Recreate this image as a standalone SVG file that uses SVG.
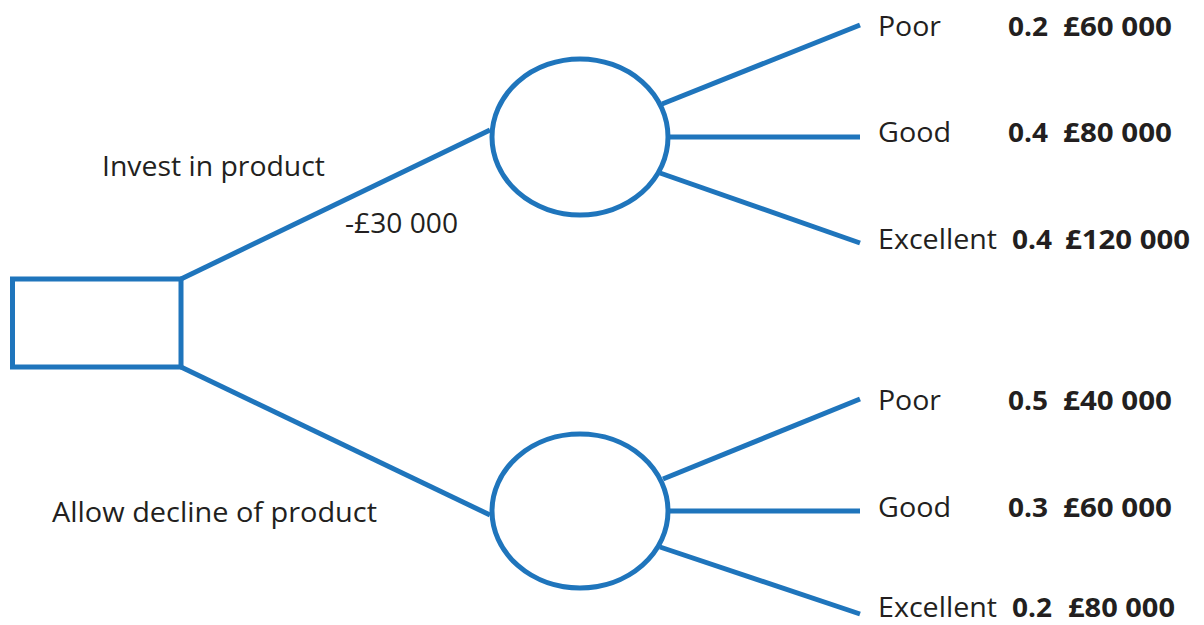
<svg xmlns="http://www.w3.org/2000/svg" width="1204" height="625" viewBox="0 0 1204 625">
<style>
.s{fill:none;stroke:#1f75bc;stroke-width:5}
.t{font-family:"Open Sans","Liberation Sans",sans-serif;font-size:28px;fill:#231f20}
.b{font-weight:bold;font-size:27px}
</style>
<rect width="1204" height="625" fill="#fff"/>
<g id="connectors" class="s">
<line x1="181" y1="279" x2="490" y2="130"/>
<line x1="181" y1="367" x2="490" y2="515"/>
<line x1="662" y1="104" x2="860" y2="25"/>
<line x1="670" y1="137" x2="860" y2="137"/>
<line x1="660" y1="173" x2="860" y2="243"/>
<line x1="663" y1="479" x2="860" y2="399"/>
<line x1="670" y1="511" x2="860" y2="511"/>
<line x1="660" y1="547" x2="860" y2="614"/>
</g>
<g id="decision"><rect class="s" x="12.5" y="279" width="168.5" height="88"/></g>
<g id="chance1"><ellipse class="s" cx="580" cy="137" rx="88" ry="78"/></g>
<g id="chance2"><ellipse class="s" cx="580" cy="511" rx="88" ry="77"/></g>
<g id="labels" class="t">
<text x="102" y="176" textLength="223" lengthAdjust="spacingAndGlyphs">Invest in product</text>
<text x="345" y="233" textLength="113" lengthAdjust="spacingAndGlyphs">-£30 000</text>
<text x="52" y="522" textLength="325" lengthAdjust="spacingAndGlyphs">Allow decline of product</text>
</g>
<g id="outcomes1" class="t">
<text x="878" y="36" textLength="63" lengthAdjust="spacingAndGlyphs">Poor</text>
<text class="b" x="1008" y="36" textLength="40" lengthAdjust="spacingAndGlyphs">0.2</text>
<text class="b" x="1063" y="36" textLength="109" lengthAdjust="spacingAndGlyphs">£60 000</text>
<text x="878" y="142" textLength="73" lengthAdjust="spacingAndGlyphs">Good</text>
<text class="b" x="1008" y="142" textLength="40" lengthAdjust="spacingAndGlyphs">0.4</text>
<text class="b" x="1063" y="142" textLength="109" lengthAdjust="spacingAndGlyphs">£80 000</text>
<text x="878" y="249" textLength="119" lengthAdjust="spacingAndGlyphs">Excellent</text>
<text class="b" x="1012" y="249" textLength="40" lengthAdjust="spacingAndGlyphs">0.4</text>
<text class="b" x="1065" y="249" textLength="125" lengthAdjust="spacingAndGlyphs">£120 000</text>
</g>
<g id="outcomes2" class="t">
<text x="878" y="410" textLength="63" lengthAdjust="spacingAndGlyphs">Poor</text>
<text class="b" x="1008" y="410" textLength="40" lengthAdjust="spacingAndGlyphs">0.5</text>
<text class="b" x="1063" y="410" textLength="109" lengthAdjust="spacingAndGlyphs">£40 000</text>
<text x="878" y="517" textLength="73" lengthAdjust="spacingAndGlyphs">Good</text>
<text class="b" x="1008" y="517" textLength="40" lengthAdjust="spacingAndGlyphs">0.3</text>
<text class="b" x="1063" y="517" textLength="109" lengthAdjust="spacingAndGlyphs">£60 000</text>
<text x="878" y="617" textLength="119" lengthAdjust="spacingAndGlyphs">Excellent</text>
<text class="b" x="1012" y="617" textLength="40" lengthAdjust="spacingAndGlyphs">0.2</text>
<text class="b" x="1068" y="617" textLength="107" lengthAdjust="spacingAndGlyphs">£80 000</text>
</g>
</svg>
